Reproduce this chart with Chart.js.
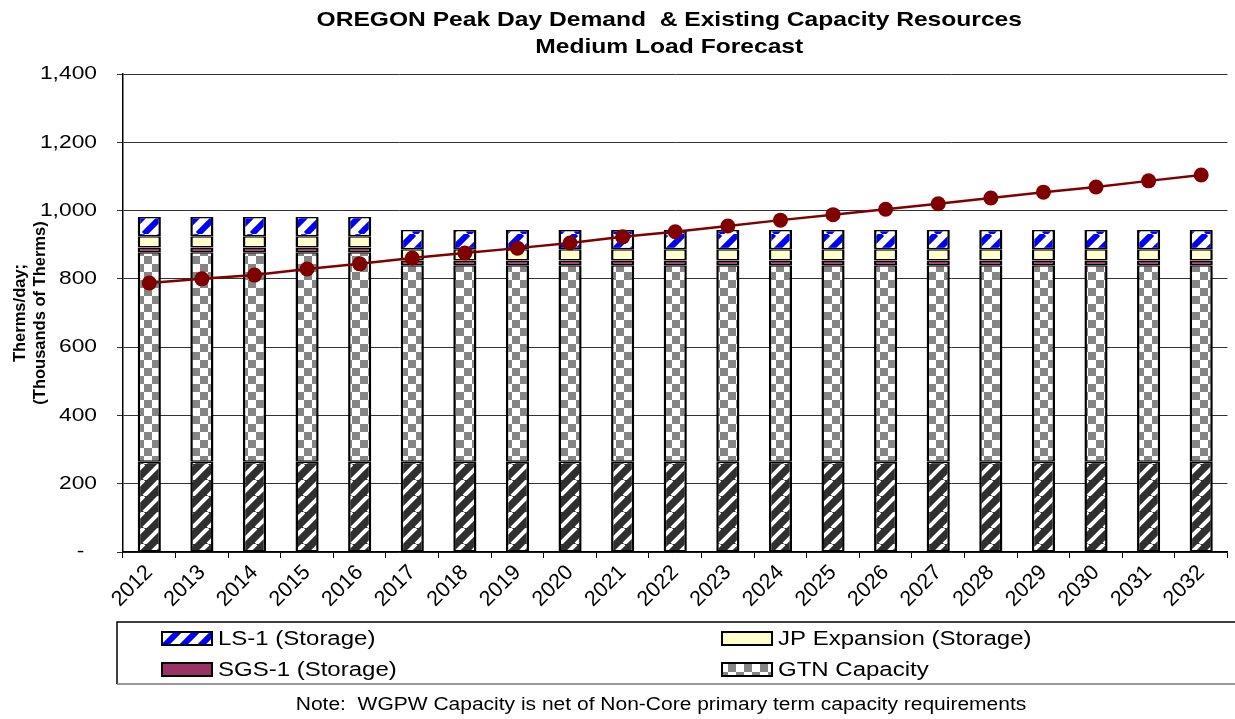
<!DOCTYPE html>
<html>
<head>
<meta charset="utf-8">
<title>OREGON Peak Day Demand & Existing Capacity Resources</title>
<script src="https://cdn.jsdelivr.net/npm/chart.js@4.4.1/dist/chart.umd.min.js"></script>
<style>
  html, body { margin: 0; padding: 0; background: #fff; }
  #wrap { position: relative; width: 1235px; height: 719px; }
</style>
</head>
<body>
<div id="wrap"><canvas id="chart"></canvas></div>
<script>
// chart values (thousands of therms per day)
const years = ["2012","2013","2014","2015","2016","2017","2018","2019","2020","2021","2022",
               "2023","2024","2025","2026","2027","2028","2029","2030","2031","2032"];
const wgpw   = [264,264,264,264,264,264,264,264,264,264,264,264,264,264,264,264,264,264,264,264,264];
const gtn    = [614,614,614,614,614,576,576,576,576,576,576,576,576,576,576,576,576,576,576,576,576];
const sgs1   = [14,14,14,14,14,14,14,14,14,14,14,14,14,14,14,14,14,14,14,14,14];
const jpExp  = [33,33,33,33,33,33,33,33,33,33,33,33,33,33,33,33,33,33,33,33,33];
const ls1    = [56,56,56,56,56,56,56,56,56,56,56,56,56,56,56,56,56,56,56,56,56];
const demand = [788,800,811,829,844,861,876,890,905,923,938,955,972,988,1004,1020,1037,1054,1069,1087,1104];
const yTicks = [0,200,400,600,800,1000,1200,1400];

const titleLines = ["OREGON Peak Day Demand  & Existing Capacity Resources", "Medium Load Forecast"];
const legendItems = ["LS-1 (Storage)", "JP Expansion (Storage)", "SGS-1 (Storage)", "GTN Capacity"];
const noteText = "Note:  WGPW Capacity is net of Non-Core primary term capacity requirements";

// the source renders its horizontal text a bit wide, so stretch unrotated text
const TEXT_STRETCH = 1.2;
const plainFillText = CanvasRenderingContext2D.prototype.fillText;
CanvasRenderingContext2D.prototype.fillText = function(text, x, y){
  const m = this.getTransform();
  if (m.b !== 0 || m.c !== 0) return plainFillText.call(this, text, x, y);
  this.save();
  this.translate(x, y);
  this.scale(TEXT_STRETCH, 1);
  plainFillText.call(this, text, 0, 0);
  this.restore();
};

function tile(size){
  const c = document.createElement("canvas");
  c.width = c.height = size;
  return c;
}

function stripes(bg, fg, size, width){
  const c = tile(size);
  const x = c.getContext("2d");
  x.fillStyle = bg;
  x.fillRect(0, 0, size, size);
  x.strokeStyle = fg;
  x.lineWidth = width;
  x.beginPath();
  [-size, 0, size].forEach(o=>{
    x.moveTo(o, size);
    x.lineTo(o + size, 0);
  });
  x.stroke();
  return x.createPattern(c, "repeat");
}

function checker(bg, fg, cell){
  const c = tile(cell * 2);
  const x = c.getContext("2d");
  x.fillStyle = bg;
  x.fillRect(0, 0, cell * 2, cell * 2);
  x.fillStyle = fg;
  x.fillRect(0, 0, cell, cell);
  x.fillRect(cell, cell, cell, cell);
  return x.createPattern(c, "repeat");
}

const fills = {
  wgpw: stripes("#303030", "#ffffff", 16, 4),
  gtn: checker("#ffffff", "#858585", 8),
  sgs1: "#993366",
  jpExp: "#ffffcc",
  ls1: stripes("#ffffff", "#0000ff", 18, 6),
};

const FONT = "'Liberation Sans', Arial, sans-serif";
Chart.defaults.font.family = FONT;
Chart.defaults.color = "#000";

function barSet(label, data, fill){
  return {
    type: "bar", label, data,
    backgroundColor: fill,
    borderColor: "#000",
    borderWidth: { top: 1.5, bottom: 1.5, left: 2.5, right: 2.5 },
    borderSkipped: false,
    barPercentage: 0.44,
    categoryPercentage: 1,
    order: 1,
  };
}

const titlePlugin = {
  id: "twoLineTitle",
  afterDraw(chart){
    const {ctx, chartArea} = chart;
    const cx = (chartArea.left + chartArea.right) / 2 - 6;
    ctx.save();
    ctx.fillStyle = "#000";
    ctx.font = `bold 20.5px ${FONT}`;
    ctx.textAlign = "center";
    ctx.textBaseline = "middle";
    titleLines.forEach((t, i)=> ctx.fillText(t, cx, 20 + i * 27));
    ctx.restore();
  }
};

const boxLegend = {
  id: "boxLegend",
  afterDraw(chart){
    const {ctx} = chart;
    const box = {x: 117, y: 622, w: 1130, h: 62};
    ctx.save();
    ctx.lineWidth = 1.5;
    ctx.strokeStyle = "#000";
    ctx.beginPath();
    ctx.moveTo(box.x + box.w, box.y);
    ctx.lineTo(box.x, box.y);
    ctx.lineTo(box.x, box.y + box.h);
    ctx.stroke();
    ctx.strokeStyle = "#777";
    ctx.beginPath();
    ctx.moveTo(box.x, box.y + box.h);
    ctx.lineTo(box.x + box.w, box.y + box.h);
    ctx.stroke();

    ctx.font = `20px ${FONT}`;
    ctx.textBaseline = "middle";
    ctx.textAlign = "left";
    legendItems.forEach((name, i)=>{
      const ds = chart.data.datasets.find(d=>d.label === name);
      const sx = i % 2 ? 722 : 162;
      const sy = Math.floor(i / 2) ? 663 : 632;
      ctx.fillStyle = ds.backgroundColor;
      ctx.fillRect(sx, sy, 50, 13);
      ctx.lineWidth = 2;
      ctx.strokeStyle = "#000";
      ctx.strokeRect(sx, sy, 50, 13);
      ctx.fillStyle = "#000";
      ctx.fillText(name, sx + 56, sy + 7);
    });

    ctx.font = `17.5px ${FONT}`;
    ctx.textAlign = "center";
    ctx.fillText(noteText, 661, 705);
    ctx.restore();
  }
};

new Chart(document.getElementById("chart"), {
  data: {
    labels: years,
    datasets: [
      barSet("WGPW Capacity", wgpw, fills.wgpw),
      barSet("GTN Capacity", gtn, fills.gtn),
      barSet("SGS-1 (Storage)", sgs1, fills.sgs1),
      barSet("JP Expansion (Storage)", jpExp, fills.jpExp),
      barSet("LS-1 (Storage)", ls1, fills.ls1),
      {
        type: "line",
        label: "Peak Day Demand",
        data: demand,
        borderColor: "#800000",
        backgroundColor: "#800000",
        borderWidth: 2.5,
        pointRadius: 7.5,
        pointBorderWidth: 0,
        tension: 0,
        order: 0,
      },
    ],
  },
  options: {
    responsive: true,
    maintainAspectRatio: false,
    animation: false,
    layout: { padding: { top: 74, right: 0, bottom: 0, left: 0 } },
    plugins: {
      legend: { display: false },
      tooltip: { enabled: false },
      title: { display: false },
    },
    scales: {
      x: {
        stacked: true,
        afterFit(scale){ scale.height = 167; },
        grid: { drawOnChartArea: false, color: "#000", tickLength: 6, offset: true },
        border: { color: "#000", width: 1.5 },
        ticks: { autoSkip: false, minRotation: 45, maxRotation: 45, padding: 2,
                 font: { size: 21.5 } },
      },
      y: {
        stacked: true,
        min: 0,
        max: 1400,
        afterFit(scale){ scale.width = 123; },
        afterBuildTicks(scale){ scale.ticks = yTicks.map(v=>({value: v})); },
        grid: { color: "#333", lineWidth: 1, tickLength: 6 },
        border: { color: "#000", width: 1.5 },
        ticks: {
          padding: 20,
          font: { size: 19 },
          callback: v => v === 0 ? "-  " : v.toLocaleString("en-US"),
        },
        title: {
          display: true,
          text: ["Therms/day;", "(Thousands of Therms)"],
          font: { size: 16.5, weight: "bold", lineHeight: 1.25 },
          padding: { top: 10, bottom: 0 },
        },
      },
    },
  },
  plugins: [titlePlugin, boxLegend],
});
</script>
</body>
</html>
